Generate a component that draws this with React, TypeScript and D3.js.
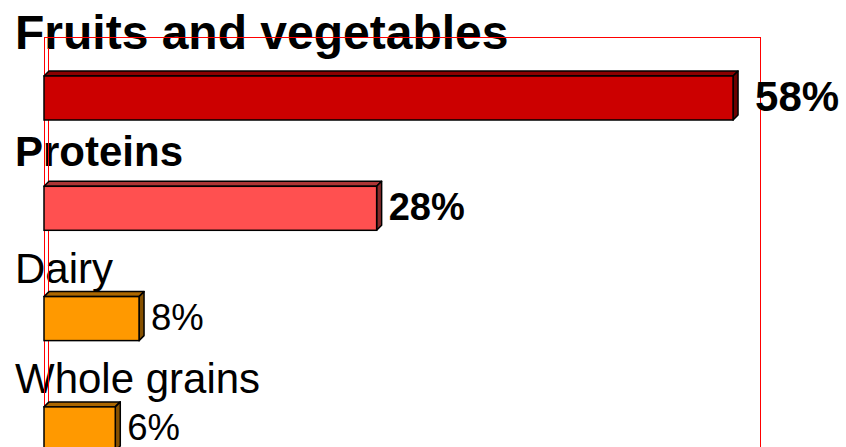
import React from "react";
import * as d3 from "d3";

const categories = ["Fruits and vegetables", "Proteins", "Dairy", "Whole grains"];
const values = [58, 28, 8, 6];
const barColors = ["#CC0000", "#FF5050", "#FF9900", "#FF9900"];
const boldRows = [true, true, false, false];
const valueLabels = ["58%", "28%", "8%", "6%"];

const W = 846;
const H = 447;
const FONT = "'Liberation Sans', Arial, Helvetica, sans-serif";
const DEPTH = 5;

export default function App() {
  const x = d3.scaleLinear().domain([0, 60]).range([44, 756.8]);
  const y = d3
    .scaleBand<string>()
    .domain(categories)
    .range([20, 20 + 4 * 110.3])
    .padding(0);

  const plotLeft = 44.5;
  const plotTop = 37.5;
  const plotRight = 760.5;

  return (
    <svg
      width={W}
      height={H}
      style={{ position: "absolute", left: 0, top: 0, background: "#fff" }}
      fontFamily={FONT}
    >
      {categories.map((c, i) => {
        const band = y(c) as number;
        const big = i === 0;
        const fs = big ? 48 : 42;
        const off = big ? 27 : boldRows[i] ? 20 : 14;
        const baseline = band + 56 - off;
        return (
          <text
            key={"l" + c}
            x={15}
            y={baseline}
            fontSize={fs}
            fontWeight={boldRows[i] ? "bold" : "normal"}
            fill="#000"
          >
            {c}
          </text>
        );
      })}
      <rect
        x={plotLeft}
        y={plotTop}
        width={plotRight - plotLeft}
        height={H + 20 - plotTop}
        fill="none"
        stroke="#FF0000"
        strokeWidth={1}
      />
      <line x1={48.5} x2={48.5} y1={48} y2={H + 10} stroke="#FF0000" strokeWidth={1} />
      {categories.map((c, i) => {
        const band = y(c) as number;
        const top = band + 56;
        const h = 44;
        const x0 = x(0);
        const x1 = x(values[i]);
        const base = d3.color(barColors[i])!;
        const topCol = d3.color(barColors[i])!.darker(1.1).formatHex();
        const sideCol = d3.color(barColors[i])!.darker(1.8).formatHex();
        const big = i === 0;
        const vfs = big ? 42 : boldRows[i] ? 38 : 36.5;
        const pad = big ? 17 : 7;
        return (
          <g key={"b" + c}>
            <path
              d={`M${x0},${top} L${x0 + DEPTH},${top - DEPTH} L${x1 + DEPTH},${top - DEPTH} L${x1},${top} Z`}
              fill={topCol}
              stroke="#000"
              strokeWidth={1.5}
              strokeLinejoin="round"
            />
            <path
              d={`M${x1},${top} L${x1 + DEPTH},${top - DEPTH} L${x1 + DEPTH},${top + h - DEPTH} L${x1},${top + h} Z`}
              fill={sideCol}
              stroke="#000"
              strokeWidth={1.5}
              strokeLinejoin="round"
            />
            <rect
              x={x0}
              y={top}
              width={x1 - x0}
              height={h}
              fill={base.formatHex()}
              stroke="#000"
              strokeWidth={1.5}
            />
            <text
              x={x1 + DEPTH + pad}
              y={top + h / 2 - 2}
              dy="0.36em"
              fontSize={vfs}
              fontWeight={boldRows[i] ? "bold" : "normal"}
              fill="#000"
            >
              {valueLabels[i]}
            </text>
          </g>
        );
      })}
    </svg>
  );
}
